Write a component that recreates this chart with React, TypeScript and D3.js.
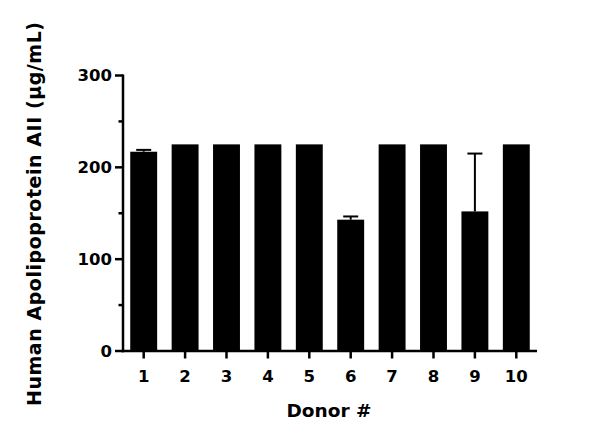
import React from "react";
import * as d3 from "d3";

const donors = ["1", "2", "3", "4", "5", "6", "7", "8", "9", "10"];
const means = [217, 225, 225, 225, 225, 143, 225, 225, 152, 225];
const errors = [2, 0, 0, 0, 0, 3.5, 0, 0, 63, 0];
const yMajorTicks = [0, 100, 200, 300];
const yMinorTicks = [50, 150, 250];

const W = 600;
const H = 442;
const left = 123;
const right = 537;
const top = 75.5;
const bottom = 351;
const FONT = "'DejaVu Sans', sans-serif";

export default function App() {
  const x = d3.scaleBand<string>().domain(donors).range([left, right]).paddingInner(0.35).paddingOuter(0.175);
  const y = d3.scaleLinear().domain([0, 300]).range([bottom, top]);
  const bw = x.bandwidth();

  return (
    <svg width={W} height={H} style={{ position: "absolute", left: 0, top: 0, background: "#fff" }}>
      <rect x={0} y={0} width={W} height={H} fill="#fff" />
      {donors.map((d, i) => {
        const x0 = x(d)!;
        const cx = x0 + bw / 2;
        return (
          <g key={d}>
            <rect x={x0} y={y(means[i])} width={bw} height={bottom - y(means[i])} fill="#000" />
            {errors[i] > 0 && (
              <g stroke="#000" strokeWidth={2}>
                <line x1={cx} x2={cx} y1={y(means[i])} y2={y(means[i] + errors[i])} />
                <line x1={cx - 7.5} x2={cx + 7.5} y1={y(means[i] + errors[i])} y2={y(means[i] + errors[i])} />
              </g>
            )}
          </g>
        );
      })}
      {/* Y axis */}
      <line x1={left} x2={left} y1={top - 1} y2={bottom + 1.25} stroke="#000" strokeWidth={2.5} />
      {yMajorTicks.map((t) => (
        <g key={t}>
          <line x1={left - 8} x2={left} y1={y(t)} y2={y(t)} stroke="#000" strokeWidth={2.5} />
          <text x={left - 11} y={y(t)} dy="0.36em" textAnchor="end" fontFamily={FONT} fontWeight="bold" fontSize={16.5} fill="#000">
            {t}
          </text>
        </g>
      ))}
      {yMinorTicks.map((t) => (
        <line key={t} x1={left - 4.5} x2={left} y1={y(t)} y2={y(t)} stroke="#000" strokeWidth={2.5} />
      ))}
      {/* X axis */}
      <line x1={left - 1.25} x2={right} y1={bottom} y2={bottom} stroke="#000" strokeWidth={2.5} />
      {donors.map((d) => {
        const cx = x(d)! + bw / 2;
        return (
          <g key={d}>
            <line x1={cx} x2={cx} y1={bottom} y2={bottom + 7.5} stroke="#000" strokeWidth={2.5} />
            <text x={cx} y={382} textAnchor="middle" fontFamily={FONT} fontWeight="bold" fontSize={16.5} fill="#000">
              {d}
            </text>
          </g>
        );
      })}
      <text x={329} y={417} textAnchor="middle" fontFamily={FONT} fontWeight="bold" fontSize={18.5} fill="#000">
        Donor #
      </text>
      <text
        transform={`translate(41, 214) rotate(-90)`}
        textAnchor="middle"
        fontFamily={FONT}
        fontWeight="bold"
        fontSize={19}
        textLength={384}
        lengthAdjust="spacing"
        fill="#000"
      >
        Human Apolipoprotein AII (µg/mL)
      </text>
    </svg>
  );
}
